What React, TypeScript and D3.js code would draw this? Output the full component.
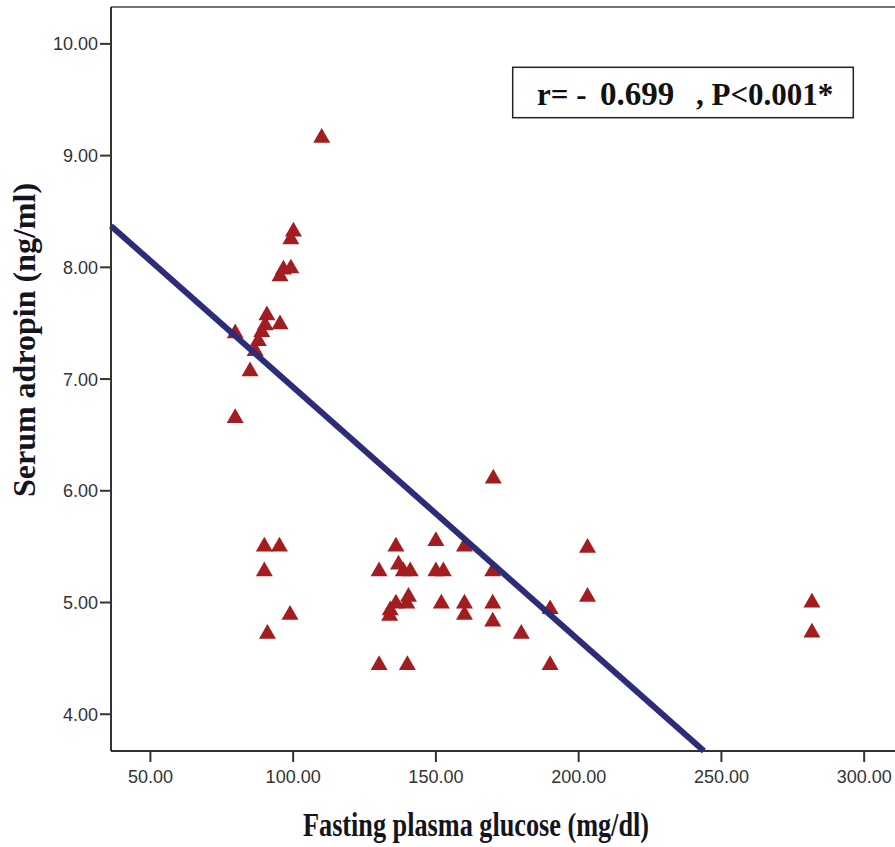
import React from "react";
import * as d3 from "d3";

// fasting plasma glucose (mg/dl) vs serum adropin (ng/ml)
const glucose = [
  110.0, 100.1, 99.2, 99.2, 96.6, 95.4, 79.7, 90.8, 95.4, 90.2, 89.0, 87.8, 86.7, 84.9, 79.7,
  89.9, 95.2, 89.9, 98.9, 91.0,
  170.1, 136.0, 150.0, 160.0, 130.1, 136.9, 138.6, 141.0, 150.0, 152.6, 169.9,
  140.4, 139.8, 136.0, 134.0, 133.8, 151.9, 160.0, 160.0, 169.9, 169.9, 179.9, 190.0,
  130.1, 140.0, 190.0, 203.1, 203.1, 281.7, 281.7,
];
const adropin = [
  9.16, 8.32, 8.25, 7.99, 7.98, 7.92, 7.41, 7.57, 7.49, 7.48, 7.42, 7.34, 7.25, 7.07, 6.65,
  5.5, 5.5, 5.28, 4.89, 4.72,
  6.11, 5.5, 5.55, 5.5, 5.28, 5.34, 5.28, 5.28, 5.28, 5.28, 5.28,
  5.05, 4.99, 4.99, 4.93, 4.88, 4.99, 4.99, 4.89, 4.99, 4.83, 4.72, 4.94,
  4.44, 4.44, 4.44, 5.49, 5.05, 5.0, 4.73,
];
const xTicks = [50, 100, 150, 200, 250, 300];
const yTicks = [4, 5, 6, 7, 8, 9, 10];
// fit line
const slope = -0.02263;
const intercept = 9.19;

const W = 895;
const H = 847;

export default function App() {
  const x = d3.scaleLinear().domain([36.2, 310.8]).range([111, 895]);
  const y = d3.scaleLinear().domain([3.671, 10.33]).range([751, 7]);
  const [x0, x1] = x.domain();
  const [y0] = y.domain();
  const xEnd = Math.min(x1, (y0 - intercept) / slope);
  const tri = d3.symbol(d3.symbolTriangle, 125)() as string;
  const fmt = d3.format(".2f");

  return (
    <svg width={W} height={H} style={{ position: "absolute", left: 0, top: 0, background: "#fff" }}>
      {/* frame */}
      <line x1={x(x0)} x2={W} y1={y(10.33)} y2={y(10.33)} stroke="#444" strokeWidth={1.5} />
      <line x1={x(x0)} x2={W} y1={751} y2={751} stroke="#333" strokeWidth={2} />
      <line x1={x(x0)} x2={x(x0)} y1={y(10.33)} y2={751} stroke="#333" strokeWidth={2} />

      {yTicks.map((t) => (
        <g key={t} transform={`translate(0,${y(t)})`}>
          <line x1={x(x0) - 11} x2={x(x0)} stroke="#333" strokeWidth={2} />
          <text x={x(x0) - 13} dy="0.36em" textAnchor="end" fontFamily="Liberation Sans, Arial, sans-serif" fontSize={18} fill="#333">
            {fmt(t)}
          </text>
        </g>
      ))}
      {xTicks.map((t) => (
        <g key={t} transform={`translate(${x(t)},751)`}>
          <line y1={0} y2={11} stroke="#333" strokeWidth={2} />
          <text y={32} textAnchor="middle" fontFamily="Liberation Sans, Arial, sans-serif" fontSize={18} fill="#333">
            {fmt(t)}
          </text>
        </g>
      ))}

      {glucose.map((g, i) => (
        <path key={i} d={tri} transform={`translate(${x(g)},${y(adropin[i])})`} fill="#a31c20" />
      ))}

      <line
        x1={x(x0)}
        y1={y(intercept + slope * x0)}
        x2={x(xEnd)}
        y2={y(intercept + slope * xEnd)}
        stroke="#2d2c78"
        strokeWidth={6}
      />

      {/* annotation */}
      <rect x={512.7} y={67.3} width={340.6} height={50.4} fill="#fff" stroke="#222" strokeWidth={1.5} />
      <text y={105} fontFamily="Liberation Serif, Times New Roman, serif" fontWeight="bold" fontSize={31} fill="#111">
        <tspan x={537}>r= -</tspan>
        <tspan x={600} fontSize={33}>0.699</tspan>
        <tspan x={696}>, P&lt;0.001*</tspan>
      </text>

      {/* axis titles */}
      <text
        transform={`translate(35,340) rotate(-90)`}
        textAnchor="middle"
        fontFamily="Liberation Serif, Times New Roman, serif"
        fontWeight="bold"
        fontSize={32}
        fill="#141420"
      >
        Serum adropin (ng/ml)
      </text>
      <text
        x={303}
        y={836}
        textLength={346}
        lengthAdjust="spacingAndGlyphs"
        fontFamily="Liberation Serif, Times New Roman, serif"
        fontWeight="bold"
        fontSize={34}
        fill="#141420"
      >
        Fasting plasma glucose (mg/dl)
      </text>
    </svg>
  );
}
